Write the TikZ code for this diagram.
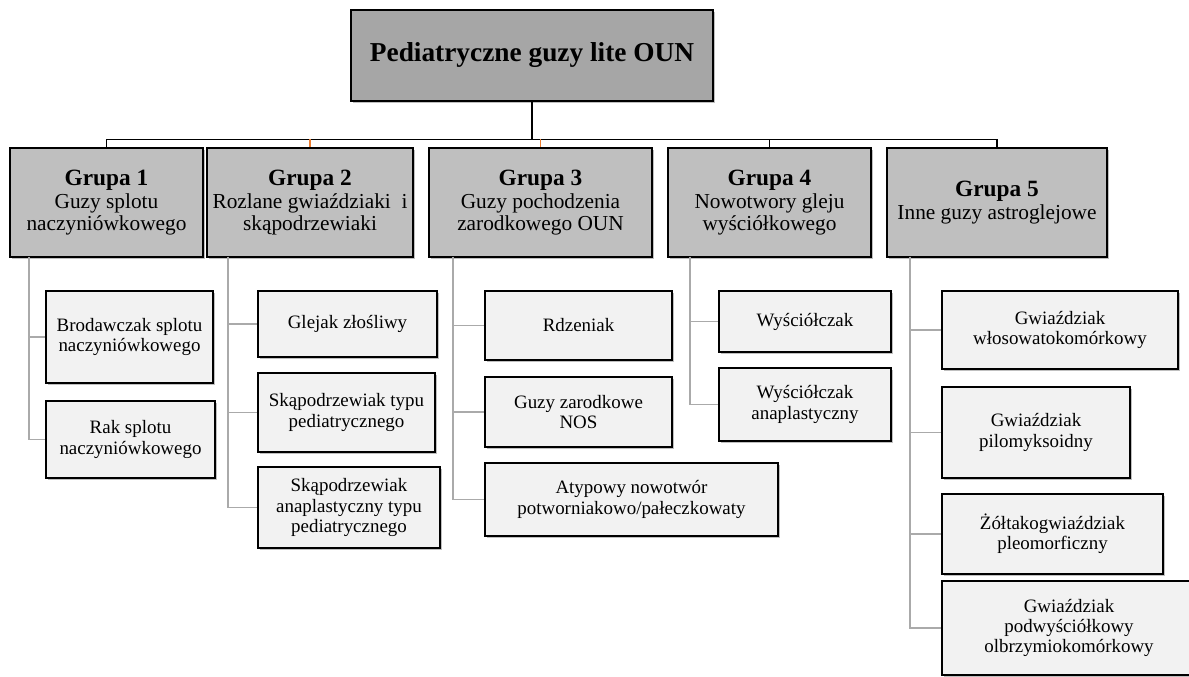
\documentclass[tikz,border=0pt]{standalone}
\usepackage{fontspec}
\setmainfont{Liberation Serif}
\usetikzlibrary{shadows}

\definecolor{topgray}{RGB}{166,166,166}
\definecolor{grpgray}{RGB}{191,191,191}
\definecolor{leafgray}{RGB}{242,242,242}
\definecolor{railgray}{RGB}{170,170,170}
\definecolor{stuborange}{RGB}{237,125,49}

\tikzset{every picture/.style={line width=0.75pt}}
\tikzset{
	sz/.style 2 args={minimum width=#1*0.75pt, minimum height=#2*0.75pt},
	boxbase/.style={draw=black, line width=1.5pt, inner sep=0pt, align=center,
		drop shadow={opacity=0.5, shadow xshift=1.8pt, shadow yshift=-1.8pt}},
	topbox/.style={boxbase, fill=topgray, font=\fontsize{20.5}{24}\selectfont\bfseries},
	grpbox/.style={boxbase, fill=grpgray, font=\fontsize{16}{16.5}\selectfont},
	leafbox/.style={boxbase, fill=leafgray, font=\fontsize{14.2}{15.2}\selectfont},
	trunk/.style={draw=black, line width=1.3pt},
	stub/.style={draw=stuborange, line width=1.3pt},
	rail/.style={draw=railgray, line width=1.4pt}
}
\newcommand{\grphead}[1]{{\fontsize{17.5}{19}\selectfont\bfseries Grupa~#1}\\[1pt]}

\begin{document}
\begin{tikzpicture}[x=0.75pt,y=0.75pt,yscale=-1,xscale=1]
	%set diagram frame: 1189 x 677
	\useasboundingbox (0,0) rectangle (1189,677);

	%Shape: Rectangle [top]
	\node[topbox, sz={362}{91}] (top) at (532,55.5) {Pediatryczne guzy lite OUN};

	%Shape: Rectangle [groups]
	\node[grpbox, sz={193}{109}] (g1) at (106.5,202.5) {\grphead{1}Guzy splotu\\naczyniówkowego};
	\node[grpbox, sz={206}{109}] (g2) at (310,202.5) {\grphead{2}Rozlane gwiaździaki~ i\\skąpodrzewiaki};
	\node[grpbox, sz={223}{109}] (g3) at (540.5,202.5) {\grphead{3}Guzy pochodzenia\\zarodkowego OUN};
	\node[grpbox, sz={203}{109}] (g4) at (769.5,202.5) {\grphead{4}Nowotwory gleju\\wyściółkowego};
	\node[grpbox, sz={220}{109}] (g5) at (997,202.5) {\grphead{5}Inne guzy astroglejowe};

	%Straight Lines [bus]
	\coordinate (bus) at (532,139.5);
	\foreach \g in {g1,g2,g3,g4,g5}
		\draw[trunk] (top.south) -- (top.south |- bus) -| (\g.north);
	\draw[stub] (g2.north |- bus) -- (g2.north);
	\draw[stub] (g3.north |- bus) -- (g3.north);

	%Rail start points
	\coordinate (r1) at (29,257);
	\coordinate (r2) at (228,257);
	\coordinate (r3) at (453,257);
	\coordinate (r4) at (690,257);
	\coordinate (r5) at (910,257);

	%Shape: Rectangle [group 1]
	\node[leafbox, sz={167}{92}] (l11) at (129.5,337) {Brodawczak splotu\\naczyniówkowego};
	\node[leafbox, sz={169}{77}] (l12) at (130.5,439.5) {Rak splotu\\naczyniówkowego};

	%Shape: Rectangle [group 2]
	\node[leafbox, sz={179}{66}] (l21) at (347.5,324) {Glejak złośliwy};
	\node[leafbox, sz={177}{79}] (l22) at (346.5,412.5) {Skąpodrzewiak typu\\pediatrycznego};
	\node[leafbox, sz={182}{81}] (l23) at (349,507.5) {Skąpodrzewiak\\anaplastyczny typu\\pediatrycznego};

	%Shape: Rectangle [group 3]
	\node[leafbox, sz={187}{69}] (l31) at (578.5,325.5) {Rdzeniak};
	\node[leafbox, sz={187}{70}] (l32) at (578.5,412) {Guzy zarodkowe\\NOS};
	\node[leafbox, sz={293}{73}] (l33) at (631.5,499.5) {Atypowy nowotwór\\potworniakowo/pałeczkowaty};

	%Shape: Rectangle [group 4]
	\node[leafbox, sz={172}{61}] (l41) at (805,321.5) {Wyściółczak};
	\node[leafbox, sz={172}{73}] (l42) at (805,404.5) {Wyściółczak\\anaplastyczny};

	%Shape: Rectangle [group 5]
	\node[leafbox, sz={236}{78}] (l51) at (1060,330) {Gwiaździak\\włosowatokomórkowy};
	\node[leafbox, sz={188}{91}] (l52) at (1036,432.5) {Gwiaździak\\pilomyksoidny};
	\node[leafbox, sz={221}{80}] (l53) at (1052.5,534) {Żółtakogwiaździak\\pleomorficzny};
	\node[leafbox, sz={254}{94}] (l54) at (1069,628) {Gwiaździak\\podwyściółkowy\\olbrzymiokomórkowy};

	%Straight Lines [rails]
	\foreach \l in {l11,l12} \draw[rail] (r1) |- (\l.west);
	\foreach \l in {l21,l22,l23} \draw[rail] (r2) |- (\l.west);
	\foreach \l in {l31,l32,l33} \draw[rail] (r3) |- (\l.west);
	\foreach \l in {l41,l42} \draw[rail] (r4) |- (\l.west);
	\foreach \l in {l51,l52,l53,l54} \draw[rail] (r5) |- (\l.west);

\end{tikzpicture}
\end{document}
